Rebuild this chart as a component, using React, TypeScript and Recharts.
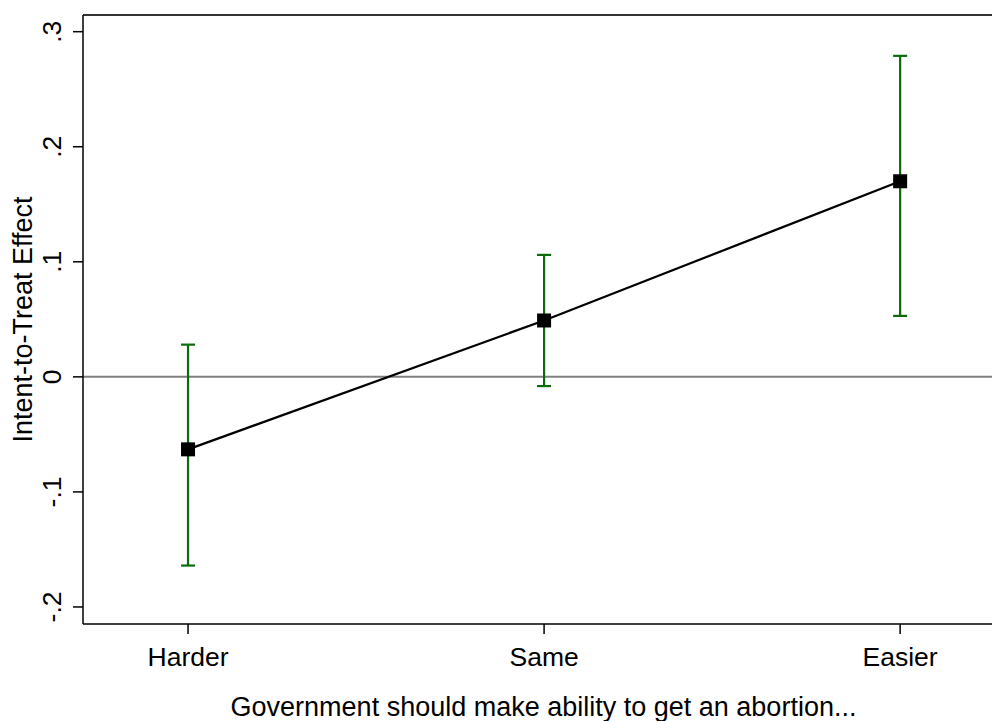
import React from "react";
import {
  LineChart,
  Line,
  XAxis,
  YAxis,
  ErrorBar,
  ReferenceLine,
} from "recharts";

const categories = ["Harder", "Same", "Easier"];
const effects = [-0.063, 0.049, 0.17];
const lower = [-0.164, -0.008, 0.053];
const upper = [0.028, 0.106, 0.279];
const yTicks = [-0.2, -0.1, 0, 0.1, 0.2, 0.3];

const data = categories.map((name, i) => ({
  pos: i,
  name,
  effect: effects[i],
  ci: [effects[i] - lower[i], upper[i] - effects[i]],
}));

const Y_MIN = -0.2148;
const Y_MAX = 0.3145;
const FONT = "'Liberation Sans', Arial, sans-serif";

const fmt = (v: number) => {
  if (Math.abs(v) < 1e-9) return "0";
  const s = v.toFixed(1);
  return s.replace("0.", ".");
};

const YTick = (props: any) => {
  const { x, y, payload } = props;
  const bx = x - 10;
  return (
    <text
      x={bx}
      y={y}
      transform={`rotate(-90, ${bx}, ${y})`}
      textAnchor="middle"
      fontSize={26.5}
      fontFamily={FONT}
      fill="#000"
    >
      {fmt(payload.value)}
    </text>
  );
};

const XTick = (props: any) => {
  const { x, y, payload } = props;
  return (
    <text
      x={x}
      y={y + 30}
      textAnchor="middle"
      fontSize={26.5}
      fontFamily={FONT}
      fill="#000"
    >
      {categories[payload.value]}
    </text>
  );
};

const SquareDot = (props: any) => {
  const { cx, cy } = props;
  if (cx == null || cy == null) return null;
  return <rect x={cx - 7} y={cy - 7} width={14} height={14} fill="#000" />;
};

export default function App() {
  return (
    <div style={{ position: "absolute", left: 0, top: 0, background: "#fff" }}>
      <LineChart
        width={992}
        height={721}
        data={data}
        margin={{ top: 15, right: 0, bottom: 0, left: 0 }}
      >
        <XAxis
          dataKey="pos"
          type="number"
          domain={[-0.295, 2.258]}
          ticks={[0, 1, 2]}
          allowDataOverflow
          height={97}
          stroke="#000"
          strokeWidth={1.5}
          tickSize={10}
          tick={<XTick />}
          label={{
            value: "Government should make ability to get an abortion...",
            position: "insideBottom",
            offset: 5,
            fontSize: 27,
            fontFamily: FONT,
            fill: "#000",
            dx: 6,
          }}
        />
        <YAxis
          type="number"
          domain={[Y_MIN, Y_MAX]}
          ticks={yTicks}
          allowDataOverflow
          width={83}
          stroke="#000"
          strokeWidth={1.5}
          tickSize={10}
          tick={<YTick />}
          label={{
            value: "Intent-to-Treat Effect",
            angle: -90,
            position: "insideLeft",
            offset: 22,
            fontSize: 27,
            fontFamily: FONT,
            fill: "#000",
            style: { textAnchor: "middle" },
          }}
        />
        <ReferenceLine y={Y_MAX} stroke="#333" strokeWidth={2} />
        <ReferenceLine y={0} stroke="#808080" strokeWidth={2} />
        <Line
          dataKey="effect"
          stroke="#000"
          strokeWidth={2.2}
          dot={<SquareDot />}
          activeDot={false}
          isAnimationActive={false}
        >
          <ErrorBar
            dataKey="ci"
            direction="y"
            width={7}
            stroke="#0b6b0b"
            strokeWidth={2.2}
          />
        </Line>
      </LineChart>
    </div>
  );
}
